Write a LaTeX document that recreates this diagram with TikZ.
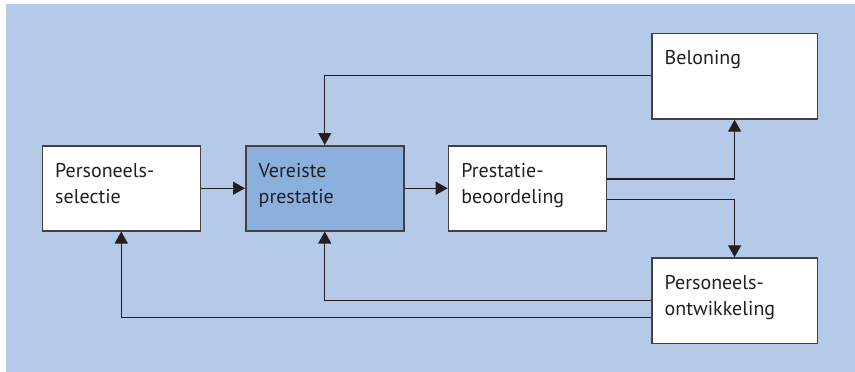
\documentclass[tikz,border=0pt]{standalone}
\usepackage{fontspec}
\setmainfont{PT Sans}
\usetikzlibrary{arrows.meta,calc}
\definecolor{bgblue}{HTML}{B4CAE8}
\definecolor{keyblue}{HTML}{8BB0DD}
\definecolor{ink}{HTML}{231F20}
\begin{document}
\begin{tikzpicture}[x=1pt,y=-1pt,
  box/.style={draw=ink!85, line width=1.5pt, fill=white, anchor=north west,
    inner sep=0pt, minimum width=158pt, minimum height=85pt},
  widebox/.style={box, minimum width=165.7pt, minimum height=85.5pt},
  lbl/.style={anchor=base west, inner sep=0pt, text width=145pt, align=left,
    font=\fontsize{20}{26}\selectfont, text=ink},
  link/.style={draw=ink, line width=1.3pt, -{Triangle[length=12pt,width=13pt]}}]
  % canvas
  \useasboundingbox (0,0) rectangle (855,372);
  \fill[bgblue] (6,4) rectangle (855,372);

  % boxes
  \node[box] (sel) at (41.5,145) {};
  \node[box, fill=keyblue] (req) at (245,145) {};
  \node[box] (beo) at (447.7,145) {};
  \node[widebox] (bel) at (651,32.7) {};
  \node[widebox] (ont) at (651,257.3) {};

  % labels
  \node[lbl] (selT) at ($(sel.north west)+(13.5,32)$) {Personeels-\\selectie};
  \node[lbl] (reqT) at ($(req.north west)+(13.5,32)$) {Vereiste\\prestatie};
  \node[lbl] (beoT) at ($(beo.north west)+(13.5,32)$) {Prestatie-\\beoordeling};
  \node[lbl] (belT) at ($(bel.north west)+(13.5,32)$) {Beloning};
  \node[lbl] (ontT) at ($(ont.north west)+(13.5,32)$) {Personeels-\\ontwikkeling};

  % connectors
  \draw[link] (sel.east) -- (req.west);
  \draw[link] (req.east) -- (beo.west);
  \draw[link] ($(beo.east)+(0,-9.2)$) -| (bel.south);
  \draw[link] ($(beo.east)+(0,11.5)$) -| (ont.north);
  \draw[link] ($(bel.west)+(0,-1)$) -| (req.north);
  \draw[link] (ont.west) -| (req.south);
  \draw[link] ($(ont.west)+(0,16.7)$) -| (sel.south);
\end{tikzpicture}
\end{document}
